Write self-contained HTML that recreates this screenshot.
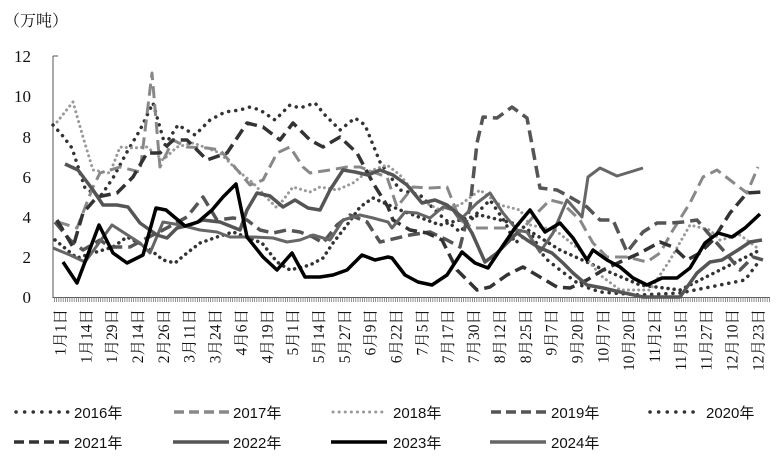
<!DOCTYPE html>
<html><head><meta charset="utf-8"><style>
body{margin:0;background:#fff}
svg{display:block}
.t{font-family:"Liberation Serif","Noto Serif CJK SC",serif;font-size:17px;fill:#111}
.xl{font-family:"Liberation Serif","Noto Serif CJK SC",serif;font-size:15.5px;fill:#111}
.lg{font-family:"Liberation Sans","Noto Sans CJK SC",sans-serif;font-size:15px;fill:#111}
polyline{fill:none;stroke-linejoin:round}
</style></head><body>
<svg width="780" height="470" viewBox="0 0 780 470" xmlns="http://www.w3.org/2000/svg">
<text x="4" y="26" class="t" style="font-size:16px">（万吨）</text>
<g class="t" text-anchor="end">
<text x="31" y="62">12</text><text x="31" y="102">10</text><text x="31" y="143">8</text>
<text x="31" y="183">6</text><text x="31" y="223">4</text><text x="31" y="263">2</text><text x="31" y="303">0</text>
</g>
<line x1="53" y1="56" x2="53" y2="298" stroke="#555" stroke-width="1"/>
<line x1="53" y1="56" x2="58" y2="56" stroke="#555"/>
<line x1="53" y1="297.5" x2="770" y2="297.5" stroke="#555"/>
<line x1="54" y1="299.5" x2="770" y2="299.5" stroke="#777" stroke-width="5" stroke-dasharray="0.8 1.4"/>
<g class="xl" text-anchor="end">
<text transform="translate(65.5,309) rotate(-90)">1月1日</text>
<text transform="translate(91.3,309) rotate(-90)">1月14日</text>
<text transform="translate(117.2,309) rotate(-90)">1月29日</text>
<text transform="translate(143.0,309) rotate(-90)">2月14日</text>
<text transform="translate(168.9,309) rotate(-90)">2月26日</text>
<text transform="translate(194.7,309) rotate(-90)">3月11日</text>
<text transform="translate(220.6,309) rotate(-90)">3月24日</text>
<text transform="translate(246.4,309) rotate(-90)">4月6日</text>
<text transform="translate(272.3,309) rotate(-90)">4月19日</text>
<text transform="translate(298.1,309) rotate(-90)">5月1日</text>
<text transform="translate(324.0,309) rotate(-90)">5月14日</text>
<text transform="translate(349.8,309) rotate(-90)">5月27日</text>
<text transform="translate(375.7,309) rotate(-90)">6月9日</text>
<text transform="translate(401.5,309) rotate(-90)">6月22日</text>
<text transform="translate(427.4,309) rotate(-90)">7月5日</text>
<text transform="translate(453.2,309) rotate(-90)">7月17日</text>
<text transform="translate(479.1,309) rotate(-90)">7月30日</text>
<text transform="translate(504.9,309) rotate(-90)">8月12日</text>
<text transform="translate(530.8,309) rotate(-90)">8月25日</text>
<text transform="translate(556.6,309) rotate(-90)">9月7日</text>
<text transform="translate(582.5,309) rotate(-90)">9月20日</text>
<text transform="translate(608.3,309) rotate(-90)">10月7日</text>
<text transform="translate(634.2,309) rotate(-90)">10月20日</text>
<text transform="translate(660.0,309) rotate(-90)">11月2日</text>
<text transform="translate(685.9,309) rotate(-90)">11月15日</text>
<text transform="translate(711.7,309) rotate(-90)">11月27日</text>
<text transform="translate(737.6,309) rotate(-90)">12月10日</text>
<text transform="translate(763.4,309) rotate(-90)">12月23日</text>
</g>

<!-- 2016 -->
<polyline stroke="#333" stroke-width="3.5" stroke-dasharray="0.1 6" stroke-linecap="round" points="55,240 77,258 93,253 113,247 127,237 147,247 163,260 175,263 187,253 200,243 217,237 233,232 262,243 277,262 290,270 310,265 323,258 333,243 347,225 360,207 373,198 400,210 440,225 480,215 520,225 560,250 600,268 640,285 680,290 720,270 760,250"/>
<!-- 2020 -->
<polyline stroke="#333" stroke-width="3.5" stroke-dasharray="0.1 7" stroke-linecap="round" points="53,125 62,135 72,148 85,188 100,197 113,178 127,152 140,130 153,103 165,145 178,125 195,135 210,120 225,112 240,110 250,107 260,110 275,120 290,105 300,108 315,103 325,115 340,130 355,118 365,125 380,162 400,190 420,195 440,215 460,232 480,210 490,200 505,222 515,243 530,232 545,258 560,270 580,285 600,292 640,295 680,293 720,285 745,280 760,260"/>
<!-- 2018 -->
<polyline stroke="#999" stroke-width="3" stroke-dasharray="0.1 5" stroke-linecap="round" points="57,122 73,102 83,137 93,170 110,173 120,147 133,148 147,147 163,160 177,147 193,143 207,148 220,153 237,170 253,183 267,198 277,208 293,187 310,192 320,187 337,190 353,183 367,172 387,165 400,175 420,200 440,210 460,205 480,190 500,205 520,210 530,225 555,230 580,250 600,275 620,290 650,290 670,260 690,225 710,230 720,240 740,235 760,250"/>
<!-- 2017 -->
<polyline stroke="#888" stroke-width="3" stroke-dasharray="12 6" points="58,222 77,228 93,187 100,173 120,167 140,172 152,73 160,167 173,140 187,147 207,148 220,150 233,165 250,185 263,180 277,153 290,147 303,167 310,173 330,170 347,167 360,167 373,172 387,177 397,207 413,187 430,188 447,187 460,220 473,228 490,228 507,228 520,232 533,217 550,200 562,203 580,220 593,243 607,257 627,257 647,262 660,253 673,230 690,203 703,177 717,170 730,180 747,193 758,167"/>
<!-- 2019 -->
<polyline stroke="#555" stroke-width="3.5" stroke-dasharray="12 6" points="55,222 70,240 83,250 100,240 110,247 130,247 143,240 163,230 187,217 203,197 217,220 233,218 247,220 260,230 273,233 287,230 300,232 313,237 323,243 337,225 350,215 367,222 380,242 410,235 430,232 447,240 460,247 470,207 477,143 483,117 497,118 512,107 527,118 533,150 540,188 557,190 570,197 587,207 600,220 613,220 627,252 643,232 657,223 670,223 683,222 697,220 708,233 723,250 740,270 753,257 763,260"/>
<!-- 2021 -->
<polyline stroke="#333" stroke-width="3.5" stroke-dasharray="12 6" points="57,220 73,247 83,213 97,197 117,193 133,177 147,153 160,153 173,140 187,140 207,160 227,153 247,123 263,127 280,140 293,123 310,140 323,147 340,137 357,153 373,183 388,207 393,220 410,230 427,233 442,240 457,270 477,290 490,287 507,275 523,267 540,277 557,287 570,288 587,280 603,270 620,262 640,253 660,242 673,247 687,260 700,253 713,240 730,213 747,193 763,192"/>
<!-- 2024 -->
<polyline stroke="#666" stroke-width="3" points="53,248 70,255 85,262 112,225 140,243 150,253 163,222 180,225 200,230 217,232 230,237 253,237 273,238 287,242 300,240 313,235 330,240 343,220 360,215 373,218 388,222 392,228 405,212 417,213 430,218 443,207 453,210 460,220 477,203 490,193 503,213 517,230 527,232 540,252 553,233 567,200 582,217 588,177 600,168 617,176 630,172 643,168"/>
<!-- 2022 -->
<polyline stroke="#555" stroke-width="3.5" points="65,164 78,170 93,190 103,205 117,205 128,207 140,223 157,235 167,238 177,228 190,225 203,220 220,222 240,230 247,210 257,193 270,196 283,207 295,200 308,208 320,210 330,190 343,170 355,172 368,175 380,170 393,175 407,185 422,203 435,200 447,205 462,217 472,233 485,262 497,253 517,233 527,240 538,247 552,253 563,263 573,273 587,285 603,288 620,292 643,297 680,297 697,273 710,262 722,260 738,250 750,242 762,240"/>
<!-- 2023 -->
<polyline stroke="#000" stroke-width="3.5" points="63,262 77,283 99,225 113,253 127,263 143,255 156,208 166,210 185,226 198,222 212,210 223,197 236,184 247,237 263,257 277,270 292,253 305,277 320,277 333,275 347,270 362,255 375,260 388,257 392,258 405,275 418,282 432,285 447,275 462,252 475,263 488,268 502,247 515,228 530,210 545,232 560,223 573,238 587,260 593,250 607,260 620,267 633,278 647,285 662,278 677,278 690,268 705,243 718,233 732,237 745,228 760,214"/>

<!-- legend -->
<g>
<line x1="16" y1="412" x2="68" y2="412" stroke="#333" stroke-width="3.5" stroke-dasharray="0.1 8.5" stroke-linecap="round"/>
<text x="74" y="418" class="lg">2016年</text>
<line x1="174" y1="412" x2="230" y2="412" stroke="#888" stroke-width="3.5" stroke-dasharray="10 5"/>
<text x="233" y="418" class="lg">2017年</text>
<line x1="333" y1="412" x2="383" y2="412" stroke="#999" stroke-width="3" stroke-dasharray="0.1 6" stroke-linecap="round"/>
<text x="393" y="418" class="lg">2018年</text>
<line x1="491" y1="412" x2="547" y2="412" stroke="#555" stroke-width="3.5" stroke-dasharray="10 5"/>
<text x="551" y="418" class="lg">2019年</text>
<line x1="650" y1="412" x2="700" y2="412" stroke="#333" stroke-width="3.5" stroke-dasharray="0.1 8.5" stroke-linecap="round"/>
<text x="706" y="418" class="lg">2020年</text>
<line x1="14" y1="442" x2="70" y2="442" stroke="#333" stroke-width="3.5" stroke-dasharray="10 5"/>
<text x="74" y="448" class="lg">2021年</text>
<line x1="173" y1="442" x2="229" y2="442" stroke="#555" stroke-width="3.5"/>
<text x="233" y="448" class="lg">2022年</text>
<line x1="331" y1="442" x2="387" y2="442" stroke="#000" stroke-width="3.5"/>
<text x="393" y="448" class="lg">2023年</text>
<line x1="490" y1="442" x2="546" y2="442" stroke="#666" stroke-width="3.5"/>
<text x="551" y="448" class="lg">2024年</text>
</g>
</svg>
</body></html>
